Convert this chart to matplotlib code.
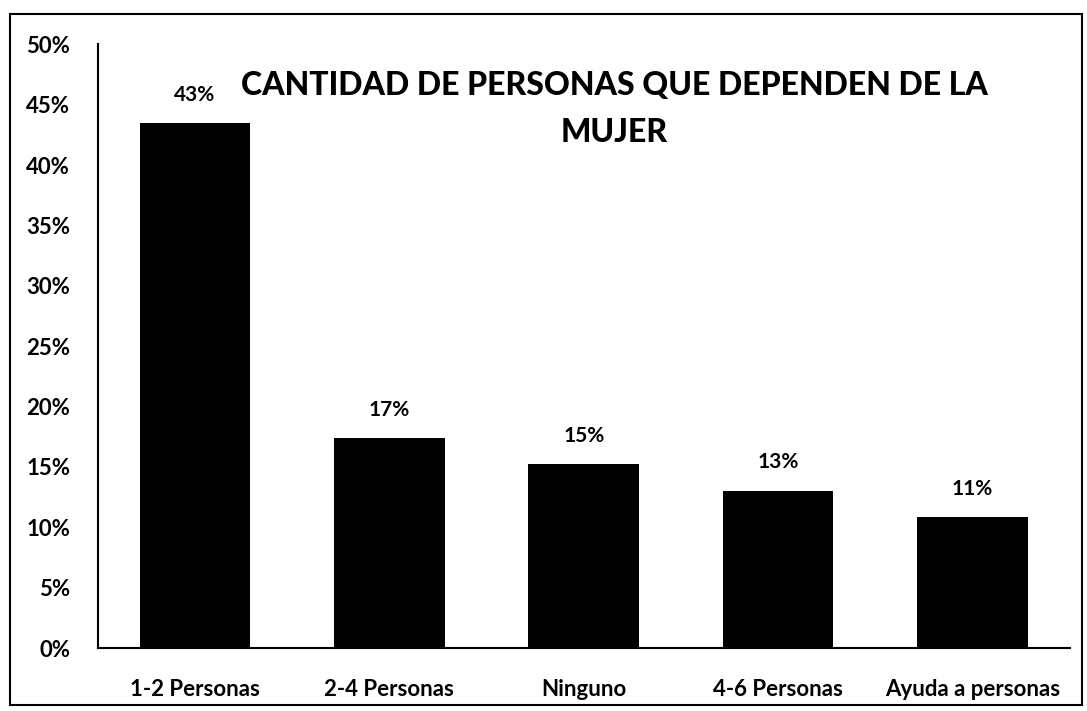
import matplotlib.pyplot as plt
import matplotlib.patches as patches
from matplotlib.ticker import FuncFormatter

plt.rcParams['font.family'] = ['Lato', 'DejaVu Sans']

categorias = ['1-2 Personas', '2-4 Personas', 'Ninguno', '4-6 Personas', 'Ayuda a personas']
porcentajes = [43.48, 17.39, 15.22, 13.04, 10.87]
etiquetas = ['43%', '17%', '15%', '13%', '11%']

fig = plt.figure(figsize=(10.87, 7.11), dpi=100)
ax = fig.add_axes([0.090, 0.0886, 0.894, 0.849])

x = range(len(categorias))
barras = ax.bar(x, porcentajes, width=0.57, color='black')

for b, txt in zip(barras, etiquetas):
    ax.text(b.get_x() + b.get_width() / 2, b.get_height() + 1.5, txt,
            ha='center', va='bottom', fontsize=15, fontweight='bold')

ax.set_xlim(-0.5, len(categorias) - 0.5)
ax.set_ylim(0, 50)
ax.set_yticks(range(0, 51, 5))
ax.yaxis.set_major_formatter(FuncFormatter(lambda v, p: '%d%%' % v))
ax.set_xticks(list(x))
ax.set_xticklabels(categorias)
ax.tick_params(axis='both', length=0, labelsize=16)
ax.tick_params(axis='y', pad=20)
ax.tick_params(axis='x', pad=22)
for lab in ax.get_xticklabels() + ax.get_yticklabels():
    lab.set_fontweight('bold')

for s in ['top', 'right']:
    ax.spines[s].set_visible(False)
ax.spines['left'].set_linewidth(1.5)
ax.spines['bottom'].set_linewidth(1.5)

fig.text(0.565, 0.847, 'CANTIDAD DE PERSONAS QUE DEPENDEN DE LA\nMUJER',
         ha='center', va='center', fontsize=23, fontweight='black',
         linespacing=1.75)

# marco alrededor del grafico
marco = patches.Rectangle((0.009, 0.008), 0.986, 0.973, transform=fig.transFigure,
                          fill=False, edgecolor='black', linewidth=1.5)
fig.patches.append(marco)

fig.savefig('out.png', dpi=100)
